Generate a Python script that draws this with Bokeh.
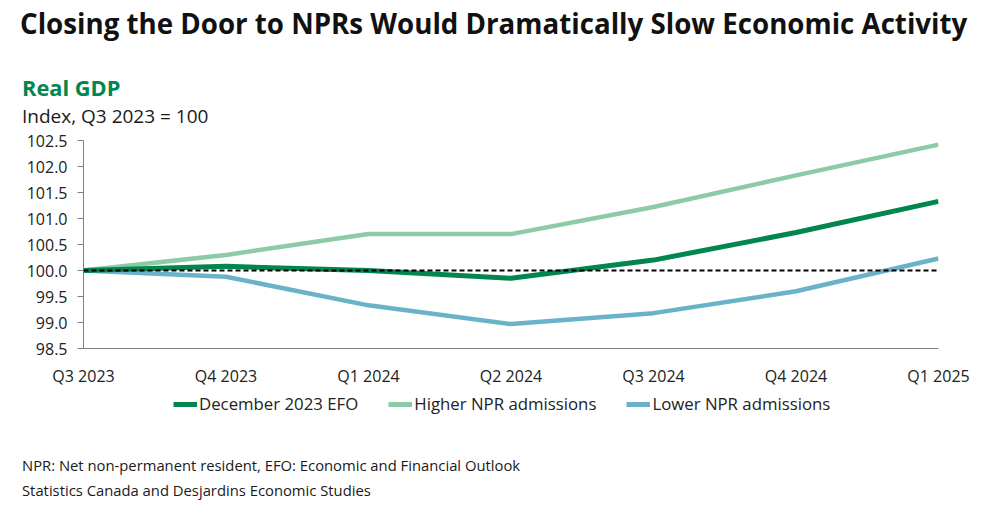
from bokeh.plotting import figure
from bokeh.models import Range1d, Span, Legend, LegendItem, FixedTicker, ColumnDataSource, Div
from bokeh.layouts import column
from bokeh.embed import file_html
from bokeh.resources import INLINE

quarters = ["Q3 2023", "Q4 2023", "Q1 2024", "Q2 2024", "Q3 2024", "Q4 2024", "Q1 2025"]
efo = [100.0, 100.08, 100.0, 99.85, 100.2, 100.73, 101.33]
higher = [100.0, 100.3, 100.7, 100.7, 101.22, 101.83, 102.42]
lower = [100.0, 99.88, 99.33, 98.97, 99.18, 99.6, 100.23]
y_ticks = [98.5, 99.0, 99.5, 100.0, 100.5, 101.0, 101.5, 102.0, 102.5]
series_keys = ["efo", "higher", "lower"]
series_names = ["December 2023 EFO", "Higher NPR admissions", "Lower NPR admissions"]
series_colors = ["#00864E", "#8DCBA6", "#6AB2C8"]
series_widths = [5, 4.5, 4.5]

FONT = "Open Sans"
W = 984


def div(text, h, size, top=0, bold=False, color="#1a1a1a", left=22):
    return Div(text=text, width=W - left, height=h, margin=(top, 0, 0, left),
               styles={"font-family": FONT, "font-size": size, "line-height": f"{h}px",
                       "font-weight": "bold" if bold else "normal", "color": color,
                       "white-space": "nowrap"})


title = div("Closing the Door to NPRs Would Dramatically Slow Economic Activity", 46, "27.7px",
            bold=True, color="#111111", left=20)
sub1 = div("Real GDP", 30, "21.8px", top=27, bold=True, color="#00864E")
sub2 = div("Index, Q3 2023 = 100", 27, "19px")

x = list(range(len(quarters)))
src = ColumnDataSource(dict(x=x, efo=efo, higher=higher, lower=lower))

p = figure(width=W, height=260, output_backend="svg", toolbar_location=None,
           x_range=Range1d(0, len(quarters) - 1), y_range=Range1d(98.5, 102.5),
           min_border_left=83, min_border_right=46, min_border_top=10, min_border_bottom=42)
p.outline_line_color = None
p.xgrid.grid_line_color = None
p.ygrid.grid_line_color = None

p.yaxis.ticker = FixedTicker(ticks=y_ticks)
p.yaxis.major_label_overrides = {t: f"{t:.1f}" for t in y_ticks}
p.yaxis.axis_line_color = "#808080"
p.yaxis.major_tick_line_color = "#808080"
p.yaxis.major_tick_out = 6
p.yaxis.major_tick_in = 0
p.yaxis.minor_tick_line_color = None
p.yaxis.major_label_text_font = FONT
p.yaxis.major_label_text_font_size = "16px"
p.yaxis.major_label_text_color = "#222222"
p.yaxis.major_label_standoff = 10

p.xaxis.ticker = FixedTicker(ticks=x)
p.xaxis.major_label_overrides = {i: q for i, q in enumerate(quarters)}
p.xaxis.axis_line_color = "#808080"
p.xaxis.major_tick_line_color = None
p.xaxis.minor_tick_line_color = None
p.xaxis.major_label_text_font = FONT
p.xaxis.major_label_text_font_size = "16px"
p.xaxis.major_label_text_color = "#222222"
p.xaxis.major_label_standoff = 10

for k, c, w in [(series_keys[1], series_colors[1], series_widths[1]),
                (series_keys[2], series_colors[2], series_widths[2]),
                (series_keys[0], series_colors[0], series_widths[0])]:
    p.line("x", k, source=src, line_color=c, line_width=w)

p.add_layout(Span(location=100.0, dimension="width", line_color="black",
                  line_dash="5 3", line_width=2))

# legend strip below the chart (its series lie outside this strip's range, so only the key shows)
lg = figure(width=W, height=30, output_backend="svg", toolbar_location=None,
            x_range=Range1d(0, 1), y_range=Range1d(0, 1),
            min_border_left=83, min_border_right=46, min_border_top=0, min_border_bottom=0)
lg.axis.visible = False
lg.grid.visible = False
lg.outline_line_color = None
items = []
for k, name, col, w in zip(series_keys, series_names, series_colors, series_widths):
    r = lg.line("x", k, source=src, line_color=col, line_width=5)
    items.append(LegendItem(label=name, renderers=[r]))
legend = Legend(items=items, orientation="horizontal", location=(90, 5),
                label_text_font=FONT, label_text_font_size="16.8px", label_text_color="#222222",
                glyph_width=24, glyph_height=22, label_standoff=2, spacing=30, padding=0, margin=0,
                border_line_color=None, background_fill_alpha=0)
lg.add_layout(legend, "center")

foot1 = div("NPR: Net non-permanent resident, EFO: Economic and Financial Outlook", 24, "14.8px", top=33)
foot2 = div("Statistics Canada and Desjardins Economic Studies", 26, "14.8px")

layout = column(title, sub1, sub2, p, lg, foot1, foot2, spacing=0)
open("out.html", "w").write(file_html(layout, INLINE))
